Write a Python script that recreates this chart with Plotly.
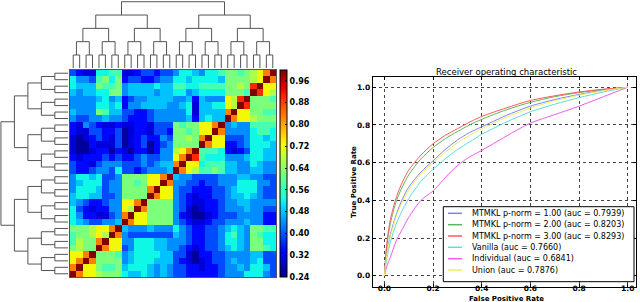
import numpy as np
import plotly.graph_objects as go

W, H = 640, 302

# ---------------- heatmap data (rows listed top -> bottom, columns left -> right) ----------------
# colour codes (jet colormap levels)
CODE_VALUES = {'0': 0.26, '1': 0.30, '2': 0.34, '3': 0.39, '4': 0.44, '5': 0.48, '6': 0.52,
               '7': 0.57, '8': 0.62, '9': 0.67, 'Y': 0.73, 'O': 0.83, 'R': 0.90, 'D': 1.0}
heat_rows = [
    "32116677" "11233233" "46654667" "88789YOD",
    "64437868" "23322344" "66566665" "88889YDO",
    "65558778" "45555655" "77667777" "8898RDYY",
    "54556688" "45555455" "66456666" "8887DRY9",
    "44445645" "23445555" "44525444" "Y9RD8887",
    "44446656" "24455554" "45615566" "Y9DR8888",
    "54448755" "33223444" "44615555" "ODYY8877",
    "43344544" "32223444" "44525655" "DOYY9888",
    "21432112" "11221333" "8788YYOD" "45447777",
    "21133223" "01221332" "8878YYDO" "44446776",
    "10123213" "01232243" "8898ODYY" "33346656",
    "10021113" "01230234" "8888DOYY" "22346665",
    "10012202" "10220244" "9YOD7776" "21236655",
    "21222323" "22343344" "YODR7666" "44456655",
    "32213444" "33343455" "ODYY6777" "55446544",
    "32234436" "33234445" "DOY97787" "55445544",
    "46656334" "8888YYOD" "54433334" "44554433",
    "45666344" "8878YYDO" "44332334" "44666443",
    "46665344" "8888ODYY" "43322233" "45666433",
    "56655334" "8888DOYY" "43212233" "45565433",
    "54322344" "YYOD8888" "43211223" "44554444",
    "63212244" "Y9DO8888" "43101223" "44454433",
    "64221134" "ODYY8888" "42100123" "33444422",
    "65433445" "DOYY8888" "43211233" "44454422",
    "8889YYOD" "54445444" "64322334" "56548877",
    "7889Y9DO" "43333333" "54322334" "67548766",
    "7988ODYY" "44666554" "44322334" "66548866",
    "8988DOYY" "34666554" "43212334" "56548876",
    "YYOD8887" "45666655" "33102233" "44445533",
    "YODO8888" "45666555" "32101233" "45445633",
    "ODYY8778" "56665454" "33221223" "44546653",
    "DOYY9888" "65565454" "33222223" "44466643",
]
colorbar_ticks = [0.24, 0.32, 0.40, 0.48, 0.56, 0.64, 0.72, 0.80, 0.88, 0.96]
z_min, z_max = 0.24, 1.0

# dendrogram: 32 leaves, balanced binary tree, merge heights per level
n_leaves = 32
level_heights = [1, 2, 3, 4, 5]

# ---------------- ROC data ----------------
fpr = [0, 0.01, 0.025, 0.05, 0.075, 0.1, 0.15, 0.2, 0.25, 0.3, 0.35, 0.4, 0.5, 0.6, 0.7, 0.8, 0.9, 1.0]
tpr_p1 = [0, 0.12, 0.22, 0.33, 0.41, 0.47, 0.55, 0.61, 0.67, 0.72, 0.76, 0.79, 0.85, 0.90, 0.935, 0.962, 0.985, 1.0]
tpr_p2 = [0, 0.16, 0.28, 0.40, 0.475, 0.535, 0.62, 0.68, 0.727, 0.765, 0.80, 0.83, 0.88, 0.92, 0.95, 0.972, 0.988, 1.0]
tpr_p3 = [0, 0.17, 0.30, 0.42, 0.50, 0.56, 0.64, 0.70, 0.745, 0.78, 0.815, 0.845, 0.89, 0.93, 0.955, 0.975, 0.99, 1.0]
tpr_vanilla = [0, 0.09, 0.18, 0.28, 0.35, 0.41, 0.50, 0.565, 0.62, 0.67, 0.71, 0.75, 0.815, 0.87, 0.91, 0.945, 0.975, 1.0]
tpr_individual = [0, 0.05, 0.10, 0.19, 0.25, 0.31, 0.40, 0.45, 0.52, 0.585, 0.63, 0.665, 0.74, 0.81, 0.855, 0.90, 0.95, 1.0]
tpr_union = [0, 0.11, 0.21, 0.32, 0.395, 0.455, 0.54, 0.60, 0.655, 0.705, 0.745, 0.78, 0.84, 0.89, 0.928, 0.958, 0.982, 1.0]
roc_names = ["MTMKL p-norm = 1.00 (auc = 0.7939)", "MTMKL p-norm = 2.00 (auc = 0.8203)",
             "MTMKL p-norm = 3.00 (auc = 0.8293)", "Vanilla (auc = 0.7660)",
             "Individual (auc = 0.6841)", "Union (auc = 0.7876)"]
roc_tprs = [tpr_p1, tpr_p2, tpr_p3, tpr_vanilla, tpr_individual, tpr_union]
roc_colors = ["#8080ff", "#5cb85c", "#ff5a5a", "#5fdcdc", "#ee5cee", "#eeee5a"]
roc_ticks = [0.0, 0.2, 0.4, 0.6, 0.8, 1.0]

# ---------------- helpers ----------------
def jet_scale(n=64):
    r_seg = [(0, 0), (0.35, 0), (0.66, 1), (0.89, 1), (1, 0.5)]
    g_seg = [(0, 0), (0.125, 0), (0.375, 1), (0.64, 1), (0.91, 0), (1, 0)]
    b_seg = [(0, 0.5), (0.11, 1), (0.34, 1), (0.65, 0), (1, 0)]
    def f(seg, t):
        xs, ys = zip(*seg)
        return float(np.interp(t, xs, ys))
    out = []
    for t in np.linspace(0, 1, n):
        out.append([float(t), "rgb(%d,%d,%d)" % (round(255 * f(r_seg, t)), round(255 * f(g_seg, t)),
                                                  round(255 * f(b_seg, t)))])
    return out


def dendro(lo, hi):
    if hi - lo == 1:
        return (float(lo), 0.0), []
    mid = (lo + hi) // 2
    (c1, h1), s1 = dendro(lo, mid)
    (c2, h2), s2 = dendro(mid, hi)
    lvl = int(round(np.log2(hi - lo)))
    h = level_heights[lvl - 1]
    return ((c1 + c2) / 2, h), s1 + s2 + [[(c1, h1), (c1, h), (c2, h), (c2, h2)]]


_, segs = dendro(0, n_leaves)
pos, hts = [], []
for s in segs:
    for p in s:
        pos.append(p[0]); hts.append(p[1])
    pos.append(None); hts.append(None)

z = [[CODE_VALUES[ch] for ch in row] for row in reversed(heat_rows)]

def px(x):
    return x / W

def py(y):
    return (H - y) / H

FONT = "DejaVu Sans"
fig = go.Figure()

fig.add_trace(go.Heatmap(
    z=z, x=list(range(n_leaves)), y=list(range(n_leaves)), zmin=z_min, zmax=z_max,
    colorscale=jet_scale(), xaxis="x", yaxis="y",
    colorbar=dict(x=px(279.5), xanchor="left", xpad=0, y=py(277), yanchor="bottom", ypad=0,
                  len=207 / H, lenmode="fraction", thickness=7, outlinewidth=1, outlinecolor="black",
                  tickvals=colorbar_ticks, ticktext=["%.2f" % t for t in colorbar_ticks],
                  ticks="inside", ticklen=2, tickcolor="black",
                  tickfont=dict(family=FONT, size=8, color="black", weight="bold"))))

dendro_line = dict(color="#555555", width=1)
fig.add_trace(go.Scatter(x=pos, y=hts, mode="lines", line=dendro_line, xaxis="x2", yaxis="y2",
                         showlegend=False, hoverinfo="skip"))
fig.add_trace(go.Scatter(x=hts, y=pos, mode="lines", line=dendro_line, xaxis="x3", yaxis="y3",
                         showlegend=False, hoverinfo="skip"))

for name, tpr, col in zip(roc_names, roc_tprs, roc_colors):
    fig.add_trace(go.Scatter(x=fpr, y=tpr, mode="lines", name=name,
                             line=dict(color=col, width=1, shape="spline", smoothing=0.8),
                             xaxis="x4", yaxis="y4", showlegend=False))

hm_x = [px(70), px(276)]
hm_y = [py(277), py(70)]
hidden = dict(visible=False, showgrid=False, zeroline=False)
roc_axis = dict(showgrid=True, gridcolor="#444444", griddash="dot", gridwidth=1, zeroline=False,
                showline=True, linecolor="black", linewidth=1, mirror="ticks", ticks="inside",
                ticklen=3, tickcolor="black", tickvals=roc_ticks,
                ticktext=["%.1f" % t for t in roc_ticks], automargin=False,
                tickfont=dict(family=FONT, size=7.5, color="black", weight="bold"))

fig.update_layout(
    width=W, height=H, margin=dict(l=0, r=0, t=0, b=0, autoexpand=False),
    paper_bgcolor="white", plot_bgcolor="white", showlegend=False,
    xaxis=dict(domain=hm_x, range=[-0.5, 31.5], showticklabels=False, ticks="", showgrid=False,
               zeroline=False, showline=True, mirror=True, linecolor="#555555", linewidth=1, anchor="y"),
    yaxis=dict(domain=hm_y, range=[-0.5, 31.5], showticklabels=False, ticks="", showgrid=False,
               zeroline=False, showline=True, mirror=True, linecolor="#555555", linewidth=1, anchor="x"),
    xaxis2=dict(domain=hm_x, range=[-0.5, 31.5], anchor="y2", **hidden),
    yaxis2=dict(domain=[py(68.3), 1.0], range=[0, 5.13], anchor="x2", **hidden),
    xaxis3=dict(domain=[0, px(68.3)], range=[5.07, 0], anchor="y3", **hidden),
    yaxis3=dict(domain=hm_y, range=[-0.5, 31.5], anchor="x3", **hidden),
    xaxis4=dict(domain=[px(372.7), px(636)], range=[-0.048, 1.034], anchor="y4",
                ticklabelstandoff=-6, **roc_axis),
    yaxis4=dict(domain=[py(286.7), py(77.3)], range=[-0.058, 1.053], anchor="x4", **roc_axis),
)

annotations = [
    dict(text="Receiver operating characteristic", x=px(506), y=py(72), xref="paper", yref="paper",
         xanchor="center", yanchor="middle", showarrow=False,
         font=dict(family=FONT, size=8.5, color="black")),
    dict(text="True Positive Rate", x=px(354), y=py(182), xref="paper", yref="paper", textangle=-90,
         xanchor="center", yanchor="middle", showarrow=False,
         font=dict(family=FONT, size=7, color="black", weight="bold")),
    dict(text="False Positive Rate", x=px(506), y=py(299), xref="paper", yref="paper",
         xanchor="center", yanchor="middle", showarrow=False,
         font=dict(family=FONT, size=7, color="black", weight="bold")),
]
shapes = [dict(type="rect", xref="paper", yref="paper", x0=px(443.3), x1=px(634), y0=py(281.7),
               y1=py(206.7), line=dict(color="black", width=1), fillcolor="white", layer="above")]
legend_y = [213.3, 224.7, 236.0, 247.3, 258.7, 270.0]
for name, col, ly in zip(roc_names, roc_colors, legend_y):
    shapes.append(dict(type="line", xref="paper", yref="paper", x0=px(448), x1=px(462),
                       y0=py(ly), y1=py(ly), line=dict(color=col, width=1.5), layer="above"))
    annotations.append(dict(text=name, x=px(470), y=py(ly), xref="paper", yref="paper",
                            xanchor="left", yanchor="middle", showarrow=False,
                            font=dict(family=FONT, size=8, color="black")))
fig.update_layout(annotations=annotations, shapes=shapes)

fig.write_html("out.html", config={"displayModeBar": False},
               post_script="document.body.style.margin='0';")
